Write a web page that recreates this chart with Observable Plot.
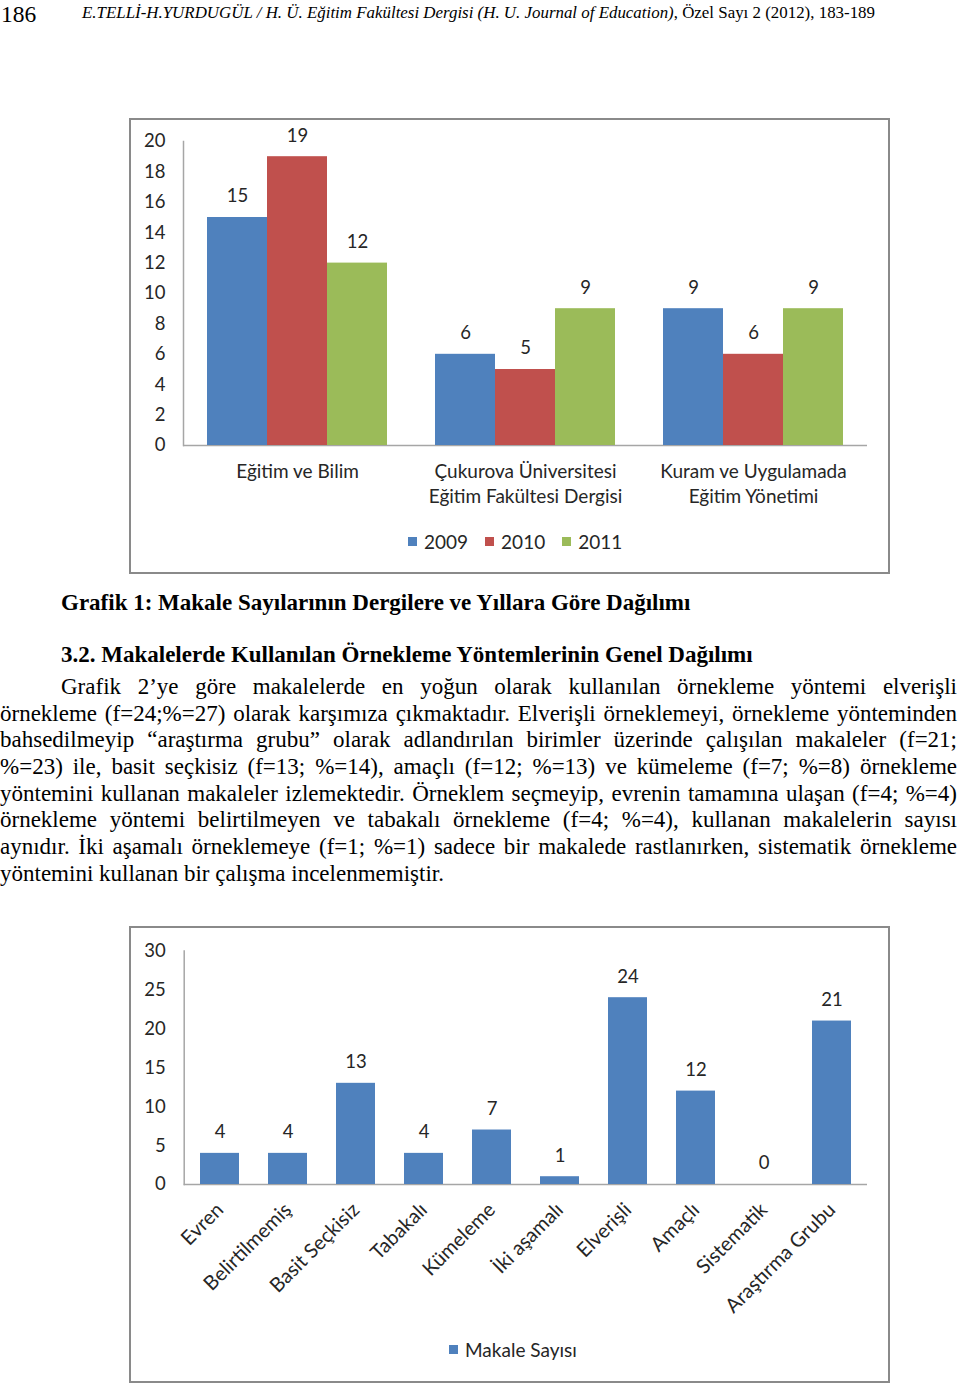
<!DOCTYPE html>
<html><head><meta charset="utf-8">
<script src="https://cdn.jsdelivr.net/npm/d3@7"></script>
<script src="https://cdn.jsdelivr.net/npm/@observablehq/plot@0.6"></script>
<style>
html,body{margin:0;padding:0;background:#fff}
body{width:960px;height:1385px;position:relative;overflow:hidden;font-family:"Liberation Serif","Times New Roman",serif;color:#000}
.abs{position:absolute;white-space:nowrap;line-height:1}
.box{position:absolute;border:2px solid #8a8a8a;box-sizing:border-box;background:#fff;overflow:visible}
.box svg{position:absolute;left:0;top:0}
.pline{position:absolute;font-size:23px;line-height:26.67px;height:26.67px;text-align:justify;text-align-last:justify;white-space:normal;overflow:visible}
.legend{position:absolute;display:flex;align-items:center;font-family:Lato,sans-serif;font-size:19px;color:#262626;white-space:nowrap;line-height:1}
.legend .sw{display:inline-block;width:9px;height:9px;margin-right:7px}
.legend .it{display:flex;align-items:center;margin-right:17px}
</style>
</head><body>
<div class="abs" id="pg" style="left:1px;font-size:23.5px">186</div>
<div class="abs" id="hdr" style="left:82px;font-size:16.5px;transform-origin:0 0"><i>E.TELLİ-H.YURDUGÜL / H. Ü. Eğitim Fakültesi Dergisi (H. U. Journal of Education)</i>, Özel Sayı 2 (2012), 183-189</div>

<div class="box" id="box1" style="left:129px;top:118px;width:761px;height:456px"></div>
<div class="legend" id="leg1" style="left:408px;top:532px"></div>

<div class="abs" id="cap1" style="left:61px;font-size:23px;font-weight:bold">Grafik 1: Makale Sayılarının Dergilere ve Yıllara Göre Dağılımı</div>
<div class="abs" id="sec" style="left:61px;font-size:23px;font-weight:bold">3.2. Makalelerde Kullanılan Örnekleme Yöntemlerinin Genel Dağılımı</div>
<div id="para"></div>

<div class="box" id="box2" style="left:129px;top:926px;width:761px;height:457px"></div>
<div class="legend" id="leg2" style="left:449px;top:1340px"></div>

<script>
// ---------- data ----------
const journals = ["Eğitim ve Bilim", "Çukurova Üniversitesi\nEğitim Fakültesi Dergisi", "Kuram ve Uygulamada\nEğitim Yönetimi"];
const years = ["2009", "2010", "2011"];
const counts2009 = [15, 6, 9];
const counts2010 = [19, 5, 6];
const counts2011 = [12, 9, 9];
const yTicks1 = [0, 2, 4, 6, 8, 10, 12, 14, 16, 18, 20];

const methods = ["Evren", "Belirtilmemiş", "Basit Seçkisiz", "Tabakalı", "Kümeleme", "İki aşamalı", "Elverişli", "Amaçlı", "Sistematik", "Araştırma Grubu"];
const methodCounts = [4, 4, 13, 4, 7, 1, 24, 12, 0, 21];
const yTicks2 = [0, 5, 10, 15, 20, 25, 30];
const seriesName2 = "Makale Sayısı";

const paragraphLines = [
  "Grafik 2’ye göre makalelerde en yoğun olarak kullanılan örnekleme yöntemi elverişli",
  "örnekleme (f=24;%=27) olarak karşımıza çıkmaktadır. Elverişli örneklemeyi, örnekleme yönteminden",
  "bahsedilmeyip “araştırma grubu” olarak adlandırılan birimler üzerinde çalışılan makaleler (f=21;",
  "%=23) ile, basit seçkisiz (f=13; %=14), amaçlı (f=12; %=13)  ve kümeleme (f=7; %=8) örnekleme",
  "yöntemini kullanan makaleler izlemektedir. Örneklem seçmeyip, evrenin tamamına ulaşan (f=4; %=4)",
  "örnekleme yöntemi belirtilmeyen ve tabakalı örnekleme (f=4; %=4), kullanan makalelerin sayısı",
  "aynıdır. İki aşamalı örneklemeye (f=1; %=1) sadece bir makalede rastlanırken, sistematik örnekleme",
  "yöntemini kullanan bir çalışma incelenmemiştir."
];

// ---------- styles ----------
const yearColors = ["#4F81BD", "#C0504D", "#9BBB59"];
const axisGray = "#a6a6a6";
const labelColor = "#262626";
const chartFont = "Lato, 'Open Sans', sans-serif";

// ---------- text placement helpers ----------
function placeBaseline(el, baseline, fs) {
  el.style.top = (baseline - 0.8375 * fs) + "px";
}
placeBaseline(document.getElementById("pg"), 22.7, 23.5);
const hdr = document.getElementById("hdr");
placeBaseline(hdr, 18.5, 16.5);
hdr.style.transform = `scaleX(${793 / hdr.getBoundingClientRect().width})`;
placeBaseline(document.getElementById("cap1"), 610, 23);
placeBaseline(document.getElementById("sec"), 662, 23);

const para = document.getElementById("para");
paragraphLines.forEach((t, i) => {
  const d = document.createElement("div");
  d.className = "pline";
  const left = i === 0 ? 61 : 0;
  d.style.left = left + "px";
  d.style.width = (957 - left) + "px";
  const baseline = 695 + i * 26.67;
  d.style.top = (baseline - ((26.67 - 1.107 * 23) / 2 + 0.891 * 23)) + "px";
  if (i === paragraphLines.length - 1) d.style.textAlignLast = "left";
  d.textContent = t;
  para.appendChild(d);
});

// ---------- chart 1 ----------
const seriesByYear = [counts2009, counts2010, counts2011];
const rows1 = journals.flatMap((j, i) => years.map((yr, k) => ({journal: j, year: yr, value: seriesByYear[k][i]})));

const chart1 = Plot.plot({
  width: 757, height: 420,
  marginLeft: 52, marginRight: 21, marginTop: 21, marginBottom: 95,
  style: {fontFamily: chartFont, fontSize: "18px", color: labelColor, background: "transparent", overflow: "visible"},
  fx: {domain: journals, padding: 0, label: null},
  x: {domain: years, paddingInner: 0, paddingOuter: 0.375, axis: null},
  y: {domain: [0, 20], label: null},
  color: {domain: years, range: yearColors},
  marks: [
    Plot.frame({anchor: "left", stroke: axisGray, strokeWidth: 1.5, facetAnchor: "left"}),
    Plot.ruleY([0], {stroke: axisGray, strokeWidth: 1.5}),
    Plot.barY(rows1, {fx: "journal", x: "year", y: "value", fill: "year"}),
    Plot.text(rows1, {fx: "journal", x: "year", y: "value", text: "value", dy: -21, fontSize: 18.5, fill: labelColor}),
    Plot.axisY({ticks: yTicks1, tickSize: 0, tickPadding: 18, fontSize: 18.5, label: null}),
    Plot.axisFx({anchor: "bottom", tickSize: 0, tickPadding: 14.5, fontSize: 19, lineHeight: 1.33, label: null})
  ]
});
document.getElementById("box1").appendChild(chart1);

const leg1 = document.getElementById("leg1");
years.forEach((yr, k) => {
  const it = document.createElement("span");
  it.className = "it";
  it.innerHTML = `<span class="sw" style="background:${yearColors[k]}"></span><span>${yr}</span>`;
  leg1.appendChild(it);
});

// ---------- chart 2 ----------
const rows2 = methods.map((m, i) => ({method: m, value: methodCounts[i]}));
const chart2 = Plot.plot({
  width: 757, height: 400,
  marginLeft: 52.7, marginRight: 21, marginTop: 22.5, marginBottom: 144,
  style: {fontFamily: chartFont, fontSize: "18px", color: labelColor, background: "transparent", overflow: "visible"},
  x: {domain: methods, paddingInner: 0.433, paddingOuter: 0.2165, label: null},
  y: {domain: [0, 30], label: null},
  marks: [
    Plot.frame({anchor: "left", stroke: axisGray, strokeWidth: 1.5}),
    Plot.ruleY([0], {stroke: axisGray, strokeWidth: 1.5}),
    Plot.barY(rows2, {x: "method", y: "value", fill: yearColors[0]}),
    Plot.text(rows2, {x: "method", y: "value", text: "value", dy: -21, fontSize: 18.5, fill: labelColor}),
    Plot.axisY({ticks: yTicks2, tickSize: 0, tickPadding: 18.4, fontSize: 18.5, label: null}),
    Plot.axisX({tickRotate: -45, tickSize: 0, tickPadding: 22, fontSize: 20, label: null})
  ]
});
document.getElementById("box2").appendChild(chart2);

const leg2 = document.getElementById("leg2");
leg2.innerHTML = `<span class="it"><span class="sw" style="background:${yearColors[0]}"></span><span>${seriesName2}</span></span>`;
</script>
</body></html>
